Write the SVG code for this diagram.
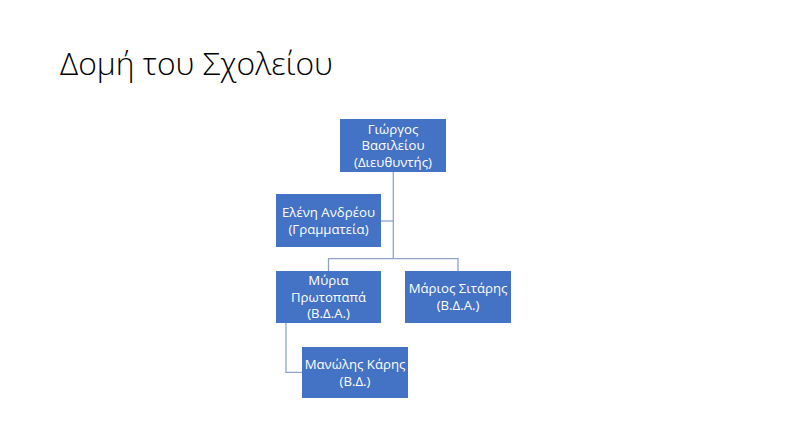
<svg xmlns="http://www.w3.org/2000/svg" width="787" height="442" viewBox="0 0 787 442">
<style>
.box{fill:#4472C4;}
.lbl{font-family:"Open Sans","Noto Sans","Liberation Sans",sans-serif;font-size:13.2px;fill:#FFFFFF;text-anchor:middle;}
.conn{fill:none;stroke:#8FA3C9;stroke-width:1.3;}
.title{font-family:"Open Sans","Noto Sans","Liberation Sans",sans-serif;font-weight:300;font-size:31px;fill:#000000;}
</style>
<rect width="787" height="442" fill="#FFFFFF"/>
<text class="title" x="60" y="74.5" textLength="273" lengthAdjust="spacingAndGlyphs">Δομή του Σχολείου</text>
<g id="connectors">
<path class="conn" d="M393.3,172 V258.7"/>
<path class="conn" d="M381,221 H393.3"/>
<path class="conn" d="M328.5,271 V258.7 H458 V271"/>
<path class="conn" d="M286,323 V372.3 H302"/>
</g>
<g id="node-giorgos">
<rect class="box" x="340" y="119" width="106" height="53"/>
<text class="lbl" x="393" y="133.5">Γιώργος</text>
<text class="lbl" x="393" y="150">Βασιλείου</text>
<text class="lbl" x="393" y="166.5">(Διευθυντής)</text>
</g>
<g id="node-eleni">
<rect class="box" x="276" y="194" width="105" height="53"/>
<text class="lbl" x="328.5" y="217">Ελένη Ανδρέου</text>
<text class="lbl" x="328.5" y="233.5">(Γραμματεία)</text>
</g>
<g id="node-myria">
<rect class="box" x="276" y="271" width="105" height="52"/>
<text class="lbl" x="328.5" y="285">Μύρια</text>
<text class="lbl" x="328.5" y="301.5">Πρωτοπαπά</text>
<text class="lbl" x="328.5" y="318">(Β.Δ.Α.)</text>
</g>
<g id="node-marios">
<rect class="box" x="405" y="271" width="106" height="52"/>
<text class="lbl" x="458" y="293.3">Μάριος Σιτάρης</text>
<text class="lbl" x="458" y="309.8">(Β.Δ.Α.)</text>
</g>
<g id="node-manolis">
<rect class="box" x="302" y="347" width="106" height="51"/>
<text class="lbl" x="355" y="369">Μανώλης Κάρης</text>
<text class="lbl" x="355" y="385.5">(Β.Δ.)</text>
</g>
</svg>
